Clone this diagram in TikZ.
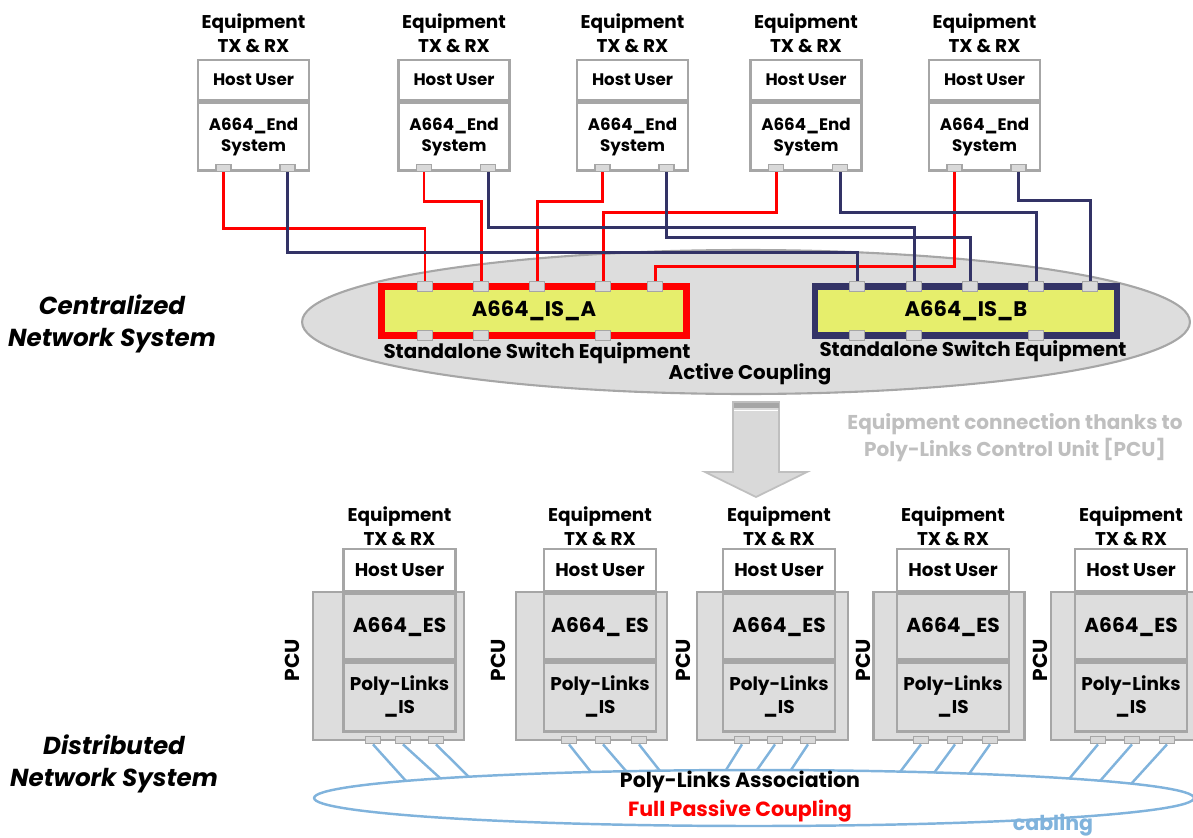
\documentclass[tikz,border=0pt]{standalone}
\usepackage{fontspec}
\setmainfont{Poppins}
\usetikzlibrary{positioning,calc,shapes.geometric}
\definecolor{FrameGrey}{HTML}{A6A6A6}
\definecolor{LightGrey}{HTML}{DDDDDD}
\definecolor{PortGrey}{HTML}{D9D9D9}
\definecolor{NoteGrey}{HTML}{BFBFBF}
\definecolor{LinkRed}{HTML}{FF0000}
\definecolor{LinkNavy}{HTML}{333366}
\definecolor{SwitchFill}{HTML}{E6EE6C}
\definecolor{CableBlue}{HTML}{80B3DC}

\begin{document}
\begin{tikzpicture}[
    x=0.02cm, y=-0.02cm,
    node distance=0pt,
    eqlabel/.style={align=center, font=\fontsize{10.5}{13.5}\selectfont\bfseries},
    hostbox/.style={draw=FrameGrey, fill=white, line width=1.5pt, minimum width=2.22cm, minimum height=0.8cm, align=center, font=\fontsize{9.5}{12}\selectfont\bfseries},
    esbox/.style={hostbox, minimum height=1.36cm},
    tport/.style={draw=FrameGrey, fill=PortGrey, line width=1pt, minimum width=0.3cm, minimum height=0.14cm, inner sep=0pt},
    sport/.style={tport, minimum height=0.2cm},
    switchbox/.style={fill=SwitchFill, line width=3.5pt, minimum width=6.1cm, minimum height=0.98cm, font=\fontsize{12}{14}\selectfont\bfseries},
    swlabel/.style={font=\fontsize{11.3}{13}\selectfont\bfseries},
    coupling/.style={ellipse, draw=FrameGrey, fill=LightGrey, line width=1.2pt, minimum width=17.76cm, minimum height=2.88cm, inner sep=0pt},
    redwire/.style={draw=LinkRed, line width=1.7pt},
    bluewire/.style={draw=LinkNavy, line width=1.7pt},
    sidelabel/.style={align=center, font=\fontsize{14}{18}\selectfont\bfseries\itshape},
    note/.style={align=center, text=NoteGrey, font=\fontsize{11.4}{15.5}\selectfont\bfseries},
    pcubox/.style={draw=FrameGrey, fill=LightGrey, line width=1.5pt, minimum width=3.02cm, minimum height=2.96cm},
    bhost/.style={draw=FrameGrey, fill=white, line width=1.5pt, minimum width=2.24cm, minimum height=0.84cm, align=center, font=\fontsize{10.5}{13}\selectfont\bfseries},
    besbox/.style={bhost, fill=LightGrey, minimum height=1.32cm, font=\fontsize{11.5}{13}\selectfont\bfseries},
    plbox/.style={bhost, fill=LightGrey, minimum height=1.38cm},
    pculabel/.style={rotate=90, font=\fontsize{11.5}{13}\selectfont\bfseries},
    cable/.style={draw=CableBlue, line width=1.4pt},
    assoc/.style={ellipse, draw=CableBlue, line width=1.4pt, minimum width=17.6cm, minimum height=1.12cm, inner sep=0pt},
    assoclabel/.style={font=\fontsize{11.7}{13}\selectfont\bfseries}
  ]
    \useasboundingbox (0,0) rectangle (1193,838);

    \node[sidelabel] (central) at (112,324) {Centralized\\Network System};
    \node[sidelabel] (distrib) at (114,764) {Distributed\\Network System};

    \foreach \i/\cx in {1/253.5,2/454,3/632.5,4/806,5/984.5}{
      \node[hostbox] (host\i) at (\cx,80) {Host User};
      \node[esbox, below=of host\i] (es\i) {A664\_End\\System};
      \node[eqlabel, above=0pt of host\i] (eq\i) {Equipment\\TX \& RX};
      \node[tport] (ta\i) at (\cx-30,168) {};
      \node[tport] (tb\i) at (\cx+34,168) {};
    }

    \node[coupling] (active) at (746,322) {};
    \node[switchbox, draw=LinkRed] (swA) at (534,311) {A664\_IS\_A};
    \node[switchbox, draw=LinkNavy, minimum width=6.04cm] (swB) at (966,311) {A664\_IS\_B};
    \foreach \k/\px in {1/425,2/481,3/537,4/603,5/655}
      \node[sport] (sa\k) at (\px,286.5) {};
    \foreach \k/\px in {1/857,2/914,3/970,4/1036,5/1090}
      \node[sport] (sb\k) at (\px,286.5) {};
    \foreach \k/\px in {1/425,2/481,3/603}
      \node[sport] (sab\k) at (\px,335.5) {};
    \foreach \k/\px in {1/857,2/914,3/1036}
      \node[sport] (sbb\k) at (\px,335.5) {};
    \node[swlabel] (swAlbl) at (537,353) {Standalone Switch Equipment};
    \node[swlabel] (swBlbl) at (973,351) {Standalone Switch Equipment};
    \node[swlabel] (activelbl) at (750,374) {Active Coupling};

    \foreach \i/\d in {1/56,2/29,3/29,4/40,5/94}
      \draw[redwire] (ta\i.south) -- ++(0,\d) -| (sa\i.north);
    \foreach \i/\d in {1/80,2/55,3/65,4/40,5/28}
      \draw[bluewire] (tb\i.south) -- ++(0,\d) -| (sb\i.north);

    \filldraw[fill=PortGrey, draw=NoteGrey, line width=1pt] (733,402) -- (779,402) -- (779,472) -- (807,472) -- (756,497) -- (705,472) -- (733,472) -- cycle;
    \fill[FrameGrey] (733.5,402.5) rectangle (778.5,408);
    \draw[white, line width=1pt] (734,410.5) -- (778,410.5);
    \node[note] (pcunote) at (1015,438) {Equipment connection thanks to\\Poly-Links Control Unit [PCU]};

    \foreach \i/\pcx/\icx/\lx/\es in {1/388.5/399.5/292/A664\_ES, 2/591.5/600/498/A664\_ ES, 3/772.5/779/683/A664\_ES, 4/949/953/863/A664\_ES, 5/1126.5/1131/1040/A664\_ES}{
      \node[pcubox] (pcu\i) at (\pcx,666) {};
      \node[bhost] (bhost\i) at (\icx,570) {Host User};
      \node[besbox, below=of bhost\i] (bes\i) {\es};
      \node[plbox, below=of bes\i] (pl\i) {Poly-Links\\\_IS};
      \node[eqlabel, above=-2.5pt of bhost\i] (beq\i) {Equipment\\TX \& RX};
      \node[pculabel] (pculbl\i) at (\lx,660) {PCU};
    }

    \node[assoc] (assoc) at (754,798) {};
    \foreach \i/\px/\ex/\ey in {1/373/406/781, 2/403/440/778, 3/436/469/777, 4/569/591/772, 5/603/626/771, 6/639/660/771, 7/742/726/770, 8/775/757/770, 9/808/791/770, 10/921/900/772, 11/955/934/773, 12/990/969/774, 13/1098/1069/779, 14/1132/1100/781, 15/1167/1131/784}{
      \node[tport] (bp\i) at (\px,740) {};
      \coordinate (ce\i) at (\ex,\ey);
      \draw[cable] (bp\i.south) -- (ce\i);
    }
    \node[assoclabel] (assoclbl) at (740,782) {Poly-Links Association};
    \node[assoclabel, text=LinkRed] (passive) at (740,811) {Full Passive Coupling};
    \node[assoclabel, text=CableBlue] (cabling) at (1053,825) {cabling};
  \end{tikzpicture}
\end{document}
